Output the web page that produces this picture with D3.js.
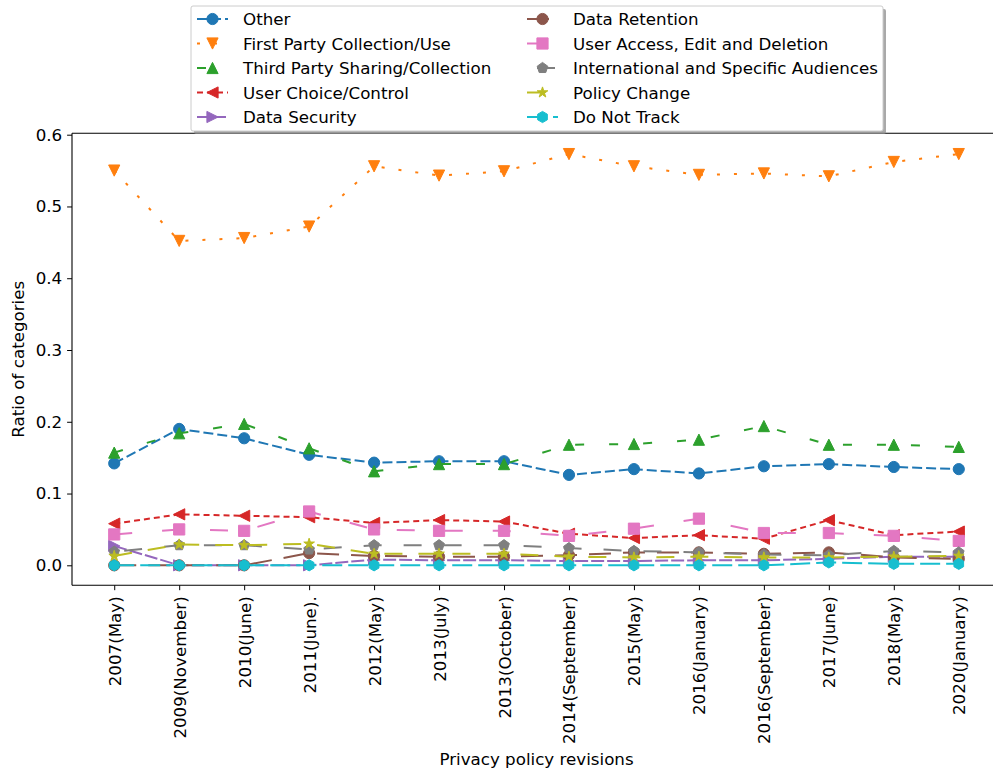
<!DOCTYPE html>
<html>
<head>
<meta charset="utf-8">
<script src="https://cdn.jsdelivr.net/npm/d3@7"></script>
<style>
  html, body { margin: 0; padding: 0; background: #fff; }
  svg { display: block; font-family: "DejaVu Sans", sans-serif; }
</style>
</head>
<body>
<svg id="chart" width="993" height="774"></svg>
<script>
// Privacy policy revisions (x categories)
const revisions = ["2007(May)", "2009(November)", "2010(June)", "2011(June).", "2012(May)",
  "2013(July)", "2013(October)", "2014(September)", "2015(May)", "2016(January)",
  "2016(September)", "2017(June)", "2018(May)", "2020(January)"];

// Ratio of each category per revision
const other         = [0.142, 0.190, 0.177, 0.154, 0.143, 0.145, 0.145, 0.126, 0.134, 0.128, 0.138, 0.141, 0.137, 0.134];
const firstParty    = [0.550, 0.452, 0.456, 0.472, 0.556, 0.543, 0.549, 0.573, 0.556, 0.544, 0.546, 0.542, 0.562, 0.573];
const thirdParty    = [0.157, 0.184, 0.197, 0.163, 0.131, 0.141, 0.141, 0.168, 0.169, 0.175, 0.194, 0.168, 0.168, 0.165];
const userChoice    = [0.058, 0.071, 0.069, 0.067, 0.059, 0.063, 0.061, 0.044, 0.038, 0.042, 0.037, 0.063, 0.042, 0.047];
const dataSecurity  = [0.027, 0.000, 0.000, 0.000, 0.008, 0.007, 0.007, 0.006, 0.006, 0.007, 0.007, 0.009, 0.012, 0.012];
const dataRetention = [0.000, 0.000, 0.000, 0.017, 0.013, 0.012, 0.012, 0.014, 0.018, 0.018, 0.016, 0.018, 0.011, 0.009];
const userAccess    = [0.043, 0.050, 0.048, 0.075, 0.050, 0.048, 0.048, 0.041, 0.051, 0.065, 0.045, 0.045, 0.041, 0.034];
const international = [0.019, 0.028, 0.028, 0.022, 0.028, 0.028, 0.028, 0.024, 0.020, 0.018, 0.015, 0.014, 0.020, 0.018];
const policyChange  = [0.013, 0.029, 0.028, 0.030, 0.016, 0.016, 0.016, 0.012, 0.011, 0.012, 0.011, 0.011, 0.012, 0.013];
const doNotTrack    = [0.000, 0.000, 0.000, 0.000, 0.000, 0.000, 0.000, 0.000, 0.000, 0.000, 0.000, 0.004, 0.002, 0.002];

const seriesNames = ["Other", "First Party Collection/Use", "Third Party Sharing/Collection",
  "User Choice/Control", "Data Security", "Data Retention", "User Access, Edit and Deletion",
  "International and Specific Audiences", "Policy Change", "Do Not Track"];
const seriesValues = [other, firstParty, thirdParty, userChoice, dataSecurity, dataRetention,
  userAccess, international, policyChange, doNotTrack];

const yTicks = [0.0, 0.1, 0.2, 0.3, 0.4, 0.5, 0.6];

// Drawing styles per series
const colors = ["#1f77b4", "#ff7f0e", "#2ca02c", "#d62728", "#9467bd",
                "#8c564b", "#e377c2", "#7f7f7f", "#bcbd22", "#17becf"];
const markers = ["circle", "tdown", "tup", "tleft", "tright", "circle", "square", "pentagon", "star", "hexagon"];
const dashes = ["10,4", "3,14", "9,25", "6,4", "13,3", "22,12", "18,30", "18,22", "18,16", "20,6"];
const dashOffsets = [0, 0, 0, 0, 0, 0, 0, 30, 0, 0];

const FONT = 16.7;

const svg = d3.select("#chart");
const plot = { left: 72, right: 1001, top: 133.3, bottom: 585.3 };

const x = d3.scaleLinear().domain([-0.65, revisions.length - 1 + 0.65]).range([plot.left, plot.right]);
const y = d3.scaleLinear().domain([0, 0.6]).range([565.3, 134.7]);

const R = 5.6; // marker half size

function markerPath(kind, r) {
  const poly = (n, rad) => {
    const p = [];
    for (let i = 0; i < n; i++) {
      const a = i * 2 * Math.PI / n;
      p.push([rad * Math.sin(a), -rad * Math.cos(a)]);
    }
    return p;
  };
  let p;
  switch (kind) {
    case "tup": p = [[0, -r], [-r, r], [r, r]]; break;
    case "tdown": p = [[0, r], [-r, -r], [r, -r]]; break;
    case "tleft": p = [[-r, 0], [r, -r], [r, r]]; break;
    case "tright": p = [[r, 0], [-r, -r], [-r, r]]; break;
    case "square": p = [[-r, -r], [r, -r], [r, r], [-r, r]]; break;
    case "pentagon": p = poly(5, r); break;
    case "hexagon": p = poly(6, r); break;
    case "star": {
      p = [];
      for (let i = 0; i < 10; i++) {
        const rad = i % 2 === 0 ? r : r * 0.381966;
        const a = i * Math.PI / 5;
        p.push([rad * Math.sin(a), -rad * Math.cos(a)]);
      }
      break;
    }
    default: return null;
  }
  return "M" + p.map(d => d[0].toFixed(2) + "," + d[1].toFixed(2)).join("L") + "Z";
}

function drawMarker(g, kind, cx, cy, color) {
  if (kind === "circle") {
    g.append("circle").attr("cx", cx).attr("cy", cy).attr("r", R)
      .attr("fill", color).attr("stroke", color).attr("stroke-width", 1);
  } else {
    g.append("path").attr("d", markerPath(kind, R))
      .attr("transform", `translate(${cx},${cy})`)
      .attr("fill", color).attr("stroke", color).attr("stroke-width", 1)
      .attr("stroke-linejoin", "miter");
  }
}

// Series, clipped to the axes area
svg.append("clipPath").attr("id", "plotclip").append("rect")
  .attr("x", plot.left).attr("y", plot.top)
  .attr("width", plot.right - plot.left).attr("height", plot.bottom - plot.top);

const seriesG = svg.append("g").attr("clip-path", "url(#plotclip)");
const line = d3.line().x((d, i) => x(i)).y(d => y(d));

seriesValues.forEach((vals, s) => {
  const g = seriesG.append("g");
  g.append("path").datum(vals).attr("d", line)
    .attr("fill", "none").attr("stroke", colors[s]).attr("stroke-width", 2)
    .attr("stroke-dasharray", dashes[s]).attr("stroke-dashoffset", dashOffsets[s])
    .attr("stroke-linejoin", "round");
  vals.forEach((v, i) => drawMarker(g, markers[s], x(i), y(v), colors[s]));
});

// Y axis
const yAxis = d3.axisLeft(y).tickValues(yTicks).tickFormat(d3.format(".1f")).tickSize(4.9).tickPadding(4.9);
const yG = svg.append("g").attr("transform", `translate(${plot.left},0)`).call(yAxis);
yG.select(".domain").remove();
yG.selectAll("text").attr("font-size", FONT).attr("font-family", "DejaVu Sans").attr("fill", "#000");
yG.selectAll("line").attr("stroke", "#000").attr("stroke-width", 1);

// X axis with vertical category labels
const xAxis = d3.axisBottom(x).tickValues(d3.range(revisions.length)).tickFormat(i => revisions[i]).tickSize(4.9).tickPadding(0);
const xG = svg.append("g").attr("transform", `translate(0,${plot.bottom})`).call(xAxis);
xG.select(".domain").remove();
xG.selectAll("line").attr("stroke", "#000").attr("stroke-width", 1);
xG.selectAll("text")
  .attr("font-size", FONT).attr("font-family", "DejaVu Sans").attr("fill", "#000")
  .attr("text-anchor", "end").attr("dy", null).attr("y", null)
  .attr("dominant-baseline", "central")
  .attr("transform", "translate(0,11) rotate(-90)");

// Spines (right spine lies past the canvas edge)
const spine = svg.append("g").attr("stroke", "#000").attr("stroke-width", 1.1).attr("fill", "none");
spine.append("line").attr("x1", plot.left).attr("x2", plot.left).attr("y1", plot.top).attr("y2", plot.bottom);
spine.append("line").attr("x1", plot.left).attr("x2", plot.right).attr("y1", plot.bottom).attr("y2", plot.bottom);
spine.append("line").attr("x1", plot.left).attr("x2", plot.right).attr("y1", plot.top).attr("y2", plot.top);

// Axis titles
svg.append("text").attr("x", (plot.left + plot.right) / 2).attr("y", 765)
  .attr("text-anchor", "middle").attr("font-size", FONT).text("Privacy policy revisions");
svg.append("text").attr("transform", `translate(24,${(plot.top + plot.bottom) / 2}) rotate(-90)`)
  .attr("text-anchor", "middle").attr("font-size", FONT).text("Ratio of categories");

// Legend with drop shadow
const leg = { x: 191, y: 6, w: 692, h: 125 };
const legG = svg.append("g");
legG.append("rect").attr("x", leg.x + 3).attr("y", leg.y + 3).attr("width", leg.w).attr("height", leg.h)
  .attr("rx", 2).attr("fill", "#8c8c8c").attr("opacity", 0.75);
legG.append("rect").attr("x", leg.x).attr("y", leg.y).attr("width", leg.w).attr("height", leg.h)
  .attr("rx", 2).attr("fill", "#fff").attr("stroke", "#cccccc").attr("stroke-width", 1);

const rowY = [19, 43.5, 68, 92.5, 117];
const colX = [197, 527];
seriesNames.forEach((name, s) => {
  const col = Math.floor(s / 5), row = s % 5;
  const hx = colX[col], hy = rowY[row];
  const g = legG.append("g");
  g.append("line").attr("x1", hx).attr("x2", hx + 31).attr("y1", hy).attr("y2", hy)
    .attr("stroke", colors[s]).attr("stroke-width", 2)
    .attr("stroke-dasharray", dashes[s]).attr("stroke-dashoffset", dashOffsets[s]);
  drawMarker(g, markers[s], hx + 15.5, hy, colors[s]);
  g.append("text").attr("x", hx + 46).attr("y", hy).attr("dominant-baseline", "central")
    .attr("font-size", FONT).attr("fill", "#000").text(name);
});
</script>
</body>
</html>
